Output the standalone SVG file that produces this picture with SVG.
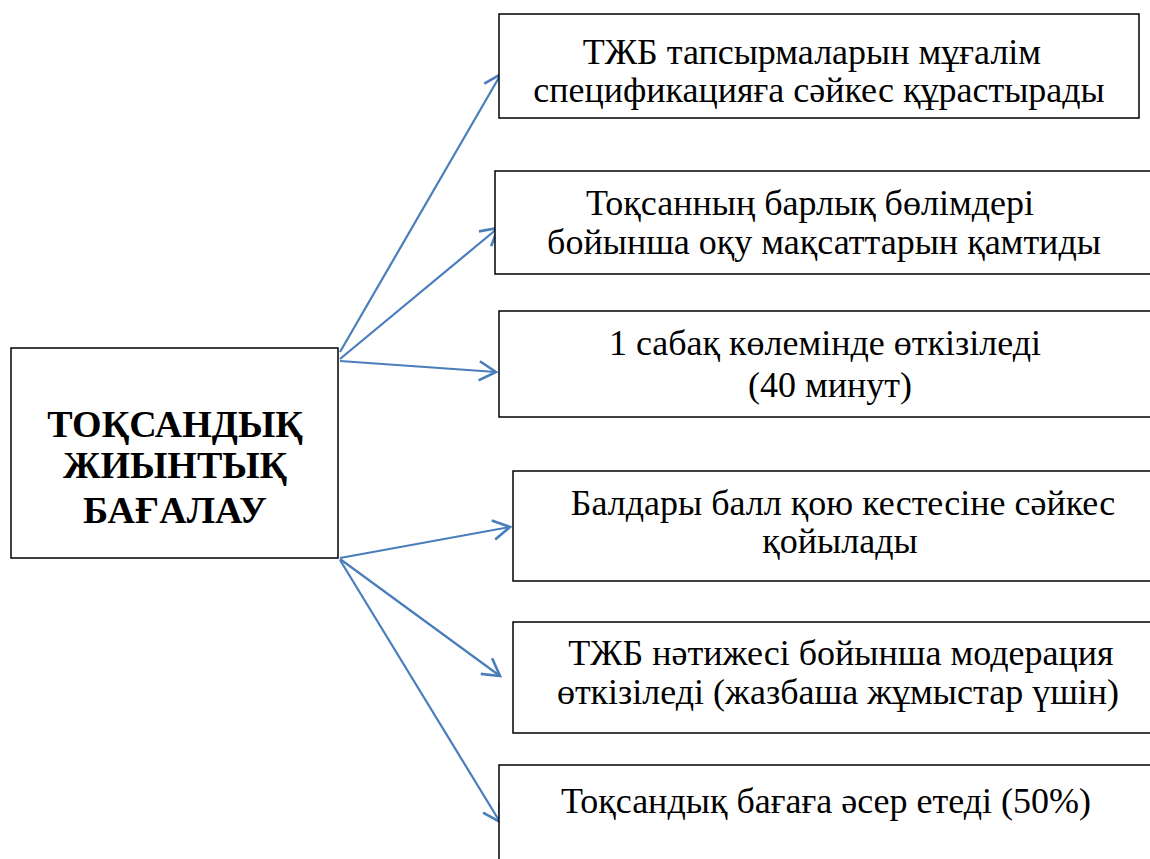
<svg xmlns="http://www.w3.org/2000/svg" width="1150" height="859" viewBox="0 0 1150 859">
<style>
.box{fill:#fff;stroke:#000;stroke-width:1.5}
.t{font-family:'Liberation Serif','DejaVu Serif',serif;font-size:36px;fill:#000;text-anchor:middle}
.title{font-family:'Liberation Serif','DejaVu Serif',serif;font-size:38px;font-weight:bold;fill:#000;text-anchor:middle}
.conn{stroke:#4A7EBB;stroke-width:2.2;fill:none;marker-end:url(#arr)}
</style>
<defs>
<marker id="arr" markerUnits="userSpaceOnUse" markerWidth="24" markerHeight="24" refX="16" refY="10" orient="auto" viewBox="0 0 20 20">
<path d="M2,2 L16,10 L2,18" fill="none" stroke="#4A7EBB" stroke-width="2.2"/>
</marker>
</defs>
<rect width="1150" height="859" fill="#fff"/>
<g id="connectors">
<line class="conn" x1="340" y1="352" x2="501" y2="74"/>
<line class="conn" x1="340" y1="359" x2="498" y2="228"/>
<line class="conn" x1="340" y1="361" x2="496" y2="372"/>
<line class="conn" x1="340" y1="558" x2="510" y2="527"/>
<line class="conn" x1="340" y1="559" x2="500" y2="676"/>
<line class="conn" x1="340" y1="560" x2="500" y2="822"/>
</g>
<g id="center">
<rect class="box" x="11" y="348" width="327" height="210"/>
<text class="title" x="175" y="437">ТОҚСАНДЫҚ</text>
<text class="title" x="175" y="478">ЖИЫНТЫҚ</text>
<text class="title" x="175" y="523">БАҒАЛАУ</text>
</g>
<g id="n1">
<rect class="box" x="499" y="14" width="640" height="104"/>
<text class="t" x="812" y="64">ТЖБ тапсырмаларын мұғалім</text>
<text class="t" x="819" y="102">спецификацияға сәйкес құрастырады</text>
</g>
<g id="n2">
<rect class="box" x="495" y="171" width="670" height="103"/>
<text class="t" x="810" y="215">Тоқсанның барлық бөлімдері</text>
<text class="t" x="824" y="254">бойынша оқу мақсаттарын қамтиды</text>
</g>
<g id="n3">
<rect class="box" x="499" y="311" width="670" height="106"/>
<text class="t" x="825" y="355">1 сабақ көлемінде өткізіледі</text>
<text class="t" x="830" y="397">(40 минут)</text>
</g>
<g id="n4">
<rect class="box" x="513" y="471" width="660" height="110"/>
<text class="t" x="843" y="515">Балдары балл қою кестесіне сәйкес</text>
<text class="t" x="840" y="553">қойылады</text>
</g>
<g id="n5">
<rect class="box" x="513" y="622" width="660" height="111"/>
<text class="t" x="841" y="665">ТЖБ нәтижесі бойынша модерация</text>
<text class="t" x="838" y="704">өткізіледі (жазбаша жұмыстар үшін)</text>
</g>
<g id="n6">
<rect class="box" x="499" y="765" width="670" height="120"/>
<text class="t" x="826" y="813">Тоқсандық бағаға әсер етеді (50%)</text>
</g>
</svg>
